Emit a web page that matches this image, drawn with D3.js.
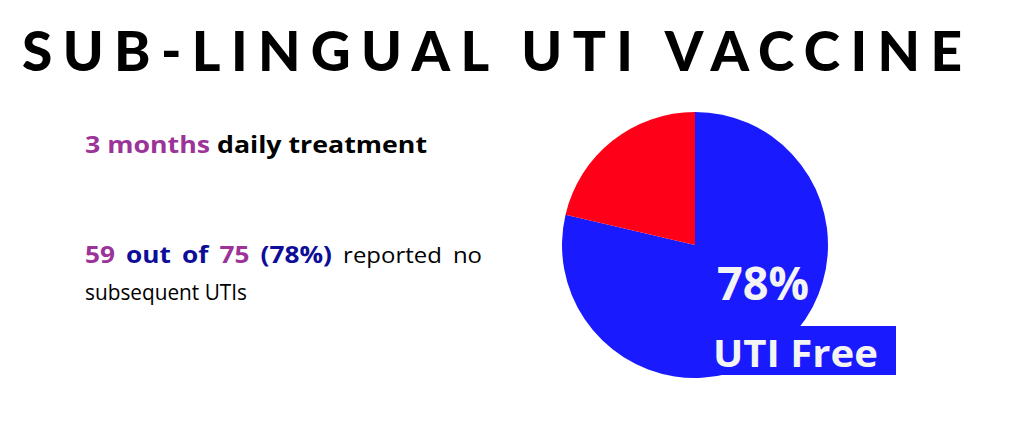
<!DOCTYPE html>
<html>
<head>
<meta charset="utf-8">
<script src="https://cdn.jsdelivr.net/npm/d3@7"></script>
<style>
  body { margin: 0; background: #fff; }
  svg { display: block; }
  text { font-family: "Open Sans", Lato, sans-serif; }
</style>
</head>
<body>
<svg id="chart" width="1024" height="435"></svg>
<script>
// data
const categories = ["UTI Free", "Reported UTI"];
const counts = [59, 16];
const sliceColors = ["#1a1aff", "#ff0019"];
const titleText = "SUB-LINGUAL UTI VACCINE";
const line1 = [["3 months", "#9b3399", "bold"], ["daily treatment", "#000", "bold"]];
const line2 = [["59", "#9b3399", "bold"], ["out", "#0d0d99", "bold"], ["of", "#0d0d99", "bold"],
               ["75", "#9b3399", "bold"], ["(78%)", "#0d0d99", "bold"], ["reported", "#000", "normal"], ["no", "#000", "normal"]];
const line3 = "subsequent UTIs";

const svg = d3.select("#chart");
const total = d3.sum(counts);
const pct = Math.floor(counts[0] / total * 100);

// title
svg.append("text")
    .attr("x", 22)
    .attr("y", 71)
    .attr("textLength", 940)
    .attr("lengthAdjust", "spacing")
    .style("font-family", "Lato, sans-serif")
    .style("font-size", "55px")
    .style("font-weight", "900")
    .attr("fill", "#000")
    .text(titleText);

// left text
const t1 = svg.append("text").attr("x", 85).attr("y", 153)
    .attr("textLength", 342).attr("lengthAdjust", "spacingAndGlyphs")
    .style("font-size", "23px");
line1.forEach((d, i) => {
    t1.append("tspan").attr("fill", d[1]).style("font-weight", d[2]).text((i ? " " : "") + d[0]);
});

// justified line 2 (words stretched a little, like the wide original face)
const g2 = svg.append("g");
const words = line2.map(d => g2.append("text")
    .attr("y", 263)
    .style("font-size", d[2] === "bold" ? "23px" : "21px")
    .style("font-weight", d[2])
    .attr("fill", d[1])
    .text(d[0]));
const widths = words.map(w => w.node().getComputedTextLength() * 1.14);
words.forEach((w, i) => w.attr("textLength", widths[i]).attr("lengthAdjust", "spacingAndGlyphs"));
const gap = (482 - 85 - d3.sum(widths)) / (words.length - 1);
let xx = 85;
words.forEach((w, i) => { w.attr("x", xx); xx += widths[i] + gap; });

svg.append("text").attr("x", 85).attr("y", 300)
    .attr("textLength", 162).attr("lengthAdjust", "spacingAndGlyphs")
    .style("font-size", "21px").attr("fill", "#000").text(line3);

// pie
const r = 133;
const pie = d3.pie().sort(null);
const arc = d3.arc().innerRadius(0).outerRadius(r);
const pg = svg.append("g").attr("transform", "translate(695,245)");
pg.selectAll("path")
    .data(pie(counts))
    .join("path")
    .attr("d", arc)
    .attr("fill", (d, i) => sliceColors[i]);

// label box
svg.append("rect")
    .attr("x", 705).attr("y", 326)
    .attr("width", 191).attr("height", 49)
    .attr("fill", sliceColors[0]);

svg.append("text")
    .attr("x", 717).attr("y", 300)
    .attr("textLength", 92).attr("lengthAdjust", "spacingAndGlyphs")
    .style("font-size", "47px").style("font-weight", "bold")
    .attr("fill", "#f4f4f4")
    .text(pct + "%");

svg.append("text")
    .attr("x", 713).attr("y", 367)
    .attr("textLength", 165).attr("lengthAdjust", "spacingAndGlyphs")
    .style("font-size", "38px").style("font-weight", "bold")
    .attr("fill", "#f4f4f4")
    .text(categories[0]);
</script>
</body>
</html>
